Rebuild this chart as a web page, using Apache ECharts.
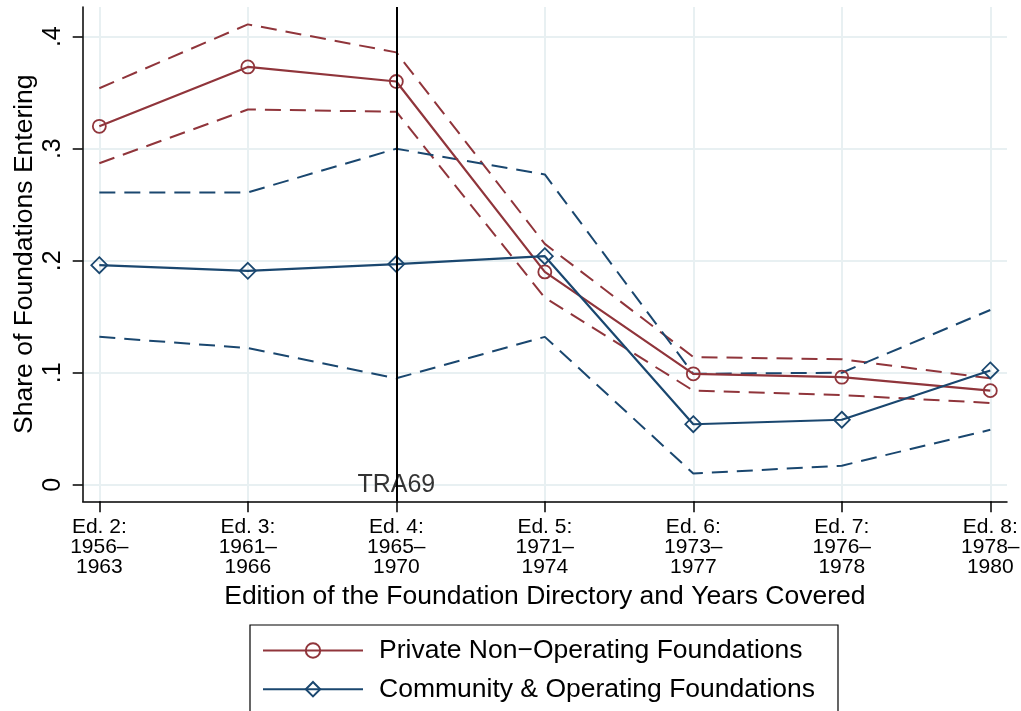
<!DOCTYPE html>
<html>
<head>
<meta charset="utf-8">
<script src="https://cdn.jsdelivr.net/npm/echarts@6/dist/echarts.min.js"></script>
<style>
  html, body { margin: 0; padding: 0; background: #fff; }
  #chart { width: 1021px; height: 711px; }
</style>
</head>
<body>
<div id="chart"></div>
<script>
// Directory editions (x positions) and their tick labels
const editions = [2, 3, 4, 5, 6, 7, 8];
const editionLabels = [
  'Ed. 2:\n1956–\n1963',
  'Ed. 3:\n1961–\n1966',
  'Ed. 4:\n1965–\n1970',
  'Ed. 5:\n1971–\n1974',
  'Ed. 6:\n1973–\n1977',
  'Ed. 7:\n1976–\n1978',
  'Ed. 8:\n1978–\n1980'
];

// Share of foundations entering, with confidence bounds
const privateShare   = [0.320, 0.373, 0.360, 0.190, 0.099, 0.096, 0.084];
const privateUpper   = [0.354, 0.411, 0.386, 0.215, 0.114, 0.112, 0.095];
const privateLower   = [0.287, 0.335, 0.333, 0.167, 0.084, 0.080, 0.073];
const communityShare = [0.196, 0.191, 0.197, 0.204, 0.054, 0.058, 0.102];
const communityUpper = [0.261, 0.261, 0.300, 0.277, 0.099, 0.100, 0.156];
const communityLower = [0.132, 0.122, 0.095, 0.132, 0.010, 0.017, 0.049];

// Y-axis ticks
const yTicks = [0, 0.1, 0.2, 0.3, 0.4];
const yTickLabels = ['0', '.1', '.2', '.3', '.4'];

// Policy marker (Tax Reform Act of 1969)
const policyEdition = 4;
const policyLabel = 'TRA69';

const RED = '#90353B';
const BLUE = '#1A476F';
const GRID = '#E8F0F2';
const FONT = '"Liberation Sans", Arial, Helvetica, sans-serif';

const pts = arr => editions.map((e, i) => [e, arr[i]]);

function boundSeries(name, arr, color) {
  return {
    name: name,
    type: 'line',
    data: pts(arr),
    symbol: 'none',
    silent: true,
    z: 2,
    lineStyle: { color: color, width: 2, type: [16, 9] }
  };
}

const chart = echarts.init(document.getElementById('chart'), null, { renderer: 'canvas' });

chart.setOption({
  animation: false,
  backgroundColor: '#fff',
  textStyle: { fontFamily: FONT },
  grid: {
    left: 82.7, right: 14, top: 7, bottom: 209.7,
    containLabel: false,
    outerBoundsMode: 'none'
  },
  xAxis: {
    type: 'value',
    min: 1.888,
    max: 8.1125,
    axisLine: { show: true, onZero: false, lineStyle: { color: '#000', width: 1.5 } },
    axisTick: { show: true, length: 11, customValues: editions, lineStyle: { color: '#000', width: 1.5 } },
    axisLabel: {
      customValues: editions,
      margin: 16,
      fontSize: 21,
      lineHeight: 20,
      color: '#000',
      fontFamily: FONT,
      formatter: v => editionLabels[editions.indexOf(Math.round(v))] || ''
    },
    splitLine: { show: true, customValues: editions, lineStyle: { color: GRID, width: 2 } },
    name: 'Edition of the Foundation Directory and Years Covered',
    nameLocation: 'middle',
    nameGap: 82,
    nameMoveOverlap: false,
    nameTextStyle: { fontSize: 26.5, color: '#000', fontFamily: FONT }
  },
  yAxis: {
    type: 'value',
    min: -0.0148,
    max: 0.4265,
    axisLine: { show: true, onZero: false, lineStyle: { color: '#000', width: 1.5 } },
    axisTick: { show: true, length: 10, customValues: yTicks, lineStyle: { color: '#000', width: 1.5 } },
    axisLabel: {
      customValues: yTicks,
      rotate: 90,
      margin: 17,
      fontSize: 25,
      color: '#000',
      fontFamily: FONT,
      formatter: v => {
        const i = yTicks.findIndex(t => Math.abs(t - v) < 1e-9);
        return i >= 0 ? yTickLabels[i] : '';
      }
    },
    splitLine: { show: true, customValues: yTicks, lineStyle: { color: GRID, width: 2 } },
    name: 'Share of Foundations Entering',
    nameLocation: 'middle',
    nameRotate: 90,
    nameGap: 45,
    nameMoveOverlap: false,
    nameTextStyle: { fontSize: 26.5, color: '#000', fontFamily: FONT }
  },
  legend: {
    orient: 'vertical',
    left: 250,
    top: 625,
    height: 300,
    data: ['Private Non−Operating Foundations', 'Community & Operating Foundations'],
    itemWidth: 100,
    itemHeight: 18,
    itemGap: 11.7,
    padding: [12, 23, 12, 12],
    borderColor: '#000',
    borderWidth: 1.2,
    backgroundColor: '#fff',
    textStyle: { fontSize: 26.5, lineHeight: 26, color: '#000', fontFamily: FONT, padding: [0, 0, 0, 11] }
  },
  series: [
    boundSeries('Private upper', privateUpper, RED),
    boundSeries('Private lower', privateLower, RED),
    boundSeries('Community upper', communityUpper, BLUE),
    boundSeries('Community lower', communityLower, BLUE),
    {
      name: 'Private Non−Operating Foundations',
      type: 'line',
      data: pts(privateShare),
      color: RED,
      symbol: 'circle',
      symbolSize: 13,
      z: 3,
      itemStyle: { color: 'rgba(255,255,255,0)', borderColor: RED, borderWidth: 1.8 },
      lineStyle: { color: RED, width: 2.2 }
    },
    {
      name: 'Community & Operating Foundations',
      type: 'line',
      data: pts(communityShare),
      color: BLUE,
      symbol: 'diamond',
      symbolSize: 16,
      z: 3,
      itemStyle: { color: 'rgba(255,255,255,0)', borderColor: BLUE, borderWidth: 1.8 },
      lineStyle: { color: BLUE, width: 2.2 },
      markLine: {
        silent: true,
        symbol: ['none', 'none'],
        label: { show: false },
        lineStyle: { color: '#000', width: 2, type: 'solid' },
        data: [{ xAxis: policyEdition }]
      }
    },
    {
      name: 'policy',
      type: 'scatter',
      data: [[policyEdition, 0]],
      symbolSize: 0,
      silent: true,
      z: 4,
      label: {
        show: true,
        position: 'inside',
        formatter: policyLabel,
        fontSize: 25,
        color: '#000',
        fontFamily: FONT
      }
    }
  ]
});
</script>
</body>
</html>
